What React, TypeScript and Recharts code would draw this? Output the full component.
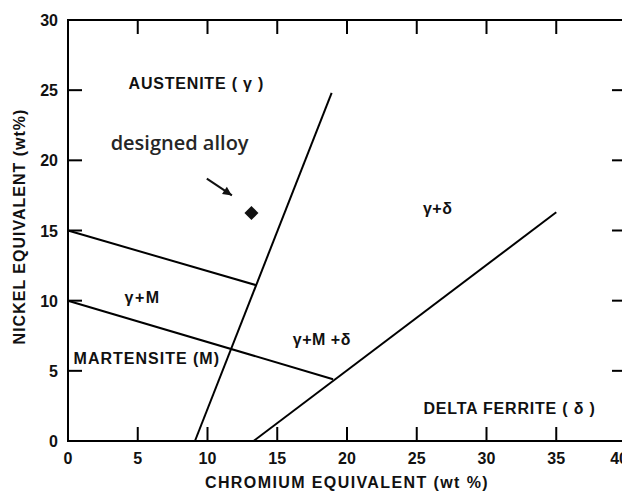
import React from 'react';
import {
  ScatterChart,
  Scatter,
  XAxis,
  YAxis,
  ReferenceDot,
  ReferenceLine,
  Label,
} from 'recharts';

// axis ticks
const crTicks = [0, 5, 10, 15, 20, 25, 30, 35, 40];
const niTicks = [0, 5, 10, 15, 20, 25, 30];

// phase boundaries (Cr eq, Ni eq)
const austeniteMartensite = [
  { x: 0, y: 15 },
  { x: 13.5, y: 11.1 },
];
const martensiteLimit = [
  { x: 0, y: 10 },
  { x: 19, y: 4.4 },
];
const austeniteFerrite = [
  { x: 9.1, y: 0 },
  { x: 18.9, y: 24.8 },
];
const ferriteLimit = [
  { x: 13.3, y: 0 },
  { x: 35, y: 16.3 },
];

const designedAlloy = [{ x: 13.15, y: 16.25 }];
const arrowFrom = { x: 9.95, y: 18.7 };
const arrowTo = { x: 11.75, y: 17.5 };

const regionLabels = [
  { x: 9.2, y: 25.5, text: 'AUSTENITE ( γ )', spacing: 0.8 },
  { x: 26.5, y: 16.6, text: 'γ+δ', spacing: 0.5 },
  { x: 5.35, y: 10.25, text: 'γ+M', spacing: 1.5 },
  { x: 5.65, y: 5.9, text: 'MARTENSITE (M)', spacing: 1 },
  { x: 18.2, y: 7.25, text: 'γ+M +δ', spacing: 0.5 },
  { x: 31.65, y: 2.35, text: 'DELTA FERRITE ( δ )', spacing: 0.8 },
];

const FONT = '"Liberation Sans", Arial, sans-serif';
const X_MIN = crTicks[0];
const X_MAX = crTicks[crTicks.length - 1];
const Y_MIN = niTicks[0];
const Y_MAX = niTicks[niTicks.length - 1];
const TICK_PX = 14;

const noDot = () => <g />;

function BottomTick({ x, y, payload }: any) {
  const last = payload.value === X_MAX;
  return (
    <text
      x={last ? Number(x) + 2 : x}
      y={Number(y) + 23}
      textAnchor={last ? 'end' : 'middle'}
      fontFamily={FONT}
      fontWeight="bold"
      fontSize={16}
      fill="#111"
    >
      {payload.value}
    </text>
  );
}

function LeftTick({ x, y, payload }: any) {
  return (
    <text x={Number(x) - 10} y={Number(y) + 6} textAnchor="end" fontFamily={FONT} fontWeight="bold" fontSize={16} fill="#111">
      {payload.value}
    </text>
  );
}

function Diamond({ cx, cy }: any) {
  const r = 7;
  return <polygon points={`${cx},${cy - r} ${cx + r},${cy} ${cx},${cy + r} ${cx - r},${cy}`} fill="#111" />;
}

function Arrow({ x1, y1, x2, y2 }: any) {
  const a = Math.atan2(y2 - y1, x2 - x1);
  const h = 10;
  const p1 = `${x2 - h * Math.cos(a - 0.45)},${y2 - h * Math.sin(a - 0.45)}`;
  const p2 = `${x2 - h * Math.cos(a + 0.45)},${y2 - h * Math.sin(a + 0.45)}`;
  return (
    <g>
      <line x1={x1} y1={y1} x2={x2} y2={y2} stroke="#111" strokeWidth={2} />
      <polygon points={`${x2},${y2} ${p1} ${p2}`} fill="#111" />
    </g>
  );
}

// frame with inward ticks; (x1,y1) is the (X_MIN,Y_MIN) corner, (x2,y2) the (X_MAX,Y_MAX) corner
function Frame({ x1, y1, x2, y2 }: any) {
  const px = (v: number) => x1 + ((v - X_MIN) / (X_MAX - X_MIN)) * (x2 - x1);
  const py = (v: number) => y1 + ((v - Y_MIN) / (Y_MAX - Y_MIN)) * (y2 - y1);
  const left = Math.min(x1, x2);
  const right = Math.max(x1, x2);
  const top = Math.min(y1, y2);
  const bottom = Math.max(y1, y2);
  return (
    <g>
      <rect x={left} y={top} width={right - left} height={bottom - top} fill="none" stroke="#000" strokeWidth={2} />
      {crTicks.slice(1, -1).map((v) => (
        <g key={`x${v}`}>
          <line x1={px(v)} y1={bottom} x2={px(v)} y2={bottom - TICK_PX} stroke="#000" strokeWidth={2} />
          <line x1={px(v)} y1={top} x2={px(v)} y2={top + TICK_PX} stroke="#000" strokeWidth={2} />
        </g>
      ))}
      {niTicks.slice(1, -1).map((v) => (
        <g key={`y${v}`}>
          <line x1={left} y1={py(v)} x2={left + TICK_PX} y2={py(v)} stroke="#000" strokeWidth={2} />
          <line x1={right} y1={py(v)} x2={right - TICK_PX} y2={py(v)} stroke="#000" strokeWidth={2} />
        </g>
      ))}
    </g>
  );
}

const line = { stroke: '#000', strokeWidth: 2 };

export default function App() {
  // the page body keeps its 8px margin, so the chart is 8px smaller on each axis
  return (
    <ScatterChart width={622} height={487} margin={{ top: 12, right: 4, bottom: 0, left: 0 }}>
      <XAxis
        xAxisId="b"
        dataKey="x"
        type="number"
        domain={[X_MIN, X_MAX]}
        ticks={crTicks}
        height={54}
        tickSize={0}
        tickMargin={0}
        tick={<BottomTick />}
        axisLine={false}
        tickLine={false}
        interval={0}
      >
        <Label
          content={({ viewBox }: any) => (
            <text
              x={viewBox.x + viewBox.width / 2}
              y={viewBox.y + 47}
              textAnchor="middle"
              fontFamily={FONT}
              fontWeight="bold"
              fontSize={16}
              letterSpacing={1.4}
              fill="#111"
            >
              CHROMIUM EQUIVALENT  (wt %)
            </text>
          )}
        />
      </XAxis>
      <YAxis
        yAxisId="l"
        dataKey="y"
        type="number"
        domain={[Y_MIN, Y_MAX]}
        ticks={niTicks}
        width={60}
        tickSize={0}
        tickMargin={0}
        tick={<LeftTick />}
        axisLine={false}
        tickLine={false}
        interval={0}
      >
        <Label
          content={({ viewBox }: any) => {
            const cx = viewBox.x + 11;
            const cy = viewBox.y + viewBox.height / 2 - 4;
            return (
              <text
                x={cx}
                y={cy}
                transform={`rotate(-90 ${cx} ${cy})`}
                dy={6}
                textAnchor="middle"
                fontFamily={FONT}
                fontWeight="bold"
                fontSize={16}
                letterSpacing={1}
                fill="#111"
              >
                NICKEL EQUIVALENT (wt%)
              </text>
            );
          }}
        />
      </YAxis>

      {[austeniteMartensite, martensiteLimit, austeniteFerrite, ferriteLimit].map((d, i) => (
        <Scatter
          key={`phase${i}`}
          xAxisId="b"
          yAxisId="l"
          data={d}
          line={line}
          shape={noDot}
          isAnimationActive={false}
        />
      ))}
      <Scatter xAxisId="b" yAxisId="l" data={designedAlloy} shape={<Diamond />} isAnimationActive={false} />

      <ReferenceLine
        xAxisId="b"
        yAxisId="l"
        segment={[arrowFrom, arrowTo]}
        shape={(p: any) => <Arrow {...p} />}
      />

      {regionLabels.map((l) => (
        <ReferenceDot
          key={l.text}
          xAxisId="b"
          yAxisId="l"
          x={l.x}
          y={l.y}
          shape={(p: any) => (
            <text
              x={p.cx}
              y={p.cy}
              dy={6}
              textAnchor="middle"
              fontFamily={FONT}
              fontWeight="bold"
              fontSize={16}
              letterSpacing={l.spacing}
              fill="#111"
            >
              {l.text}
            </text>
          )}
        />
      ))}
      <ReferenceDot
        xAxisId="b"
        yAxisId="l"
        x={8}
        y={21.2}
        shape={(p: any) => (
          <text
            x={p.cx}
            y={p.cy}
            dy={7}
            textAnchor="middle"
            fontFamily='"Open Sans", sans-serif'
            fontSize={20}
            fontWeight={600}
            fill="#262626"
          >
            designed alloy
          </text>
        )}
      />

      <ReferenceLine
        xAxisId="b"
        yAxisId="l"
        segment={[
          { x: X_MIN, y: Y_MIN },
          { x: X_MAX, y: Y_MAX },
        ]}
        shape={(p: any) => <Frame {...p} />}
      />
    </ScatterChart>
  );
}
